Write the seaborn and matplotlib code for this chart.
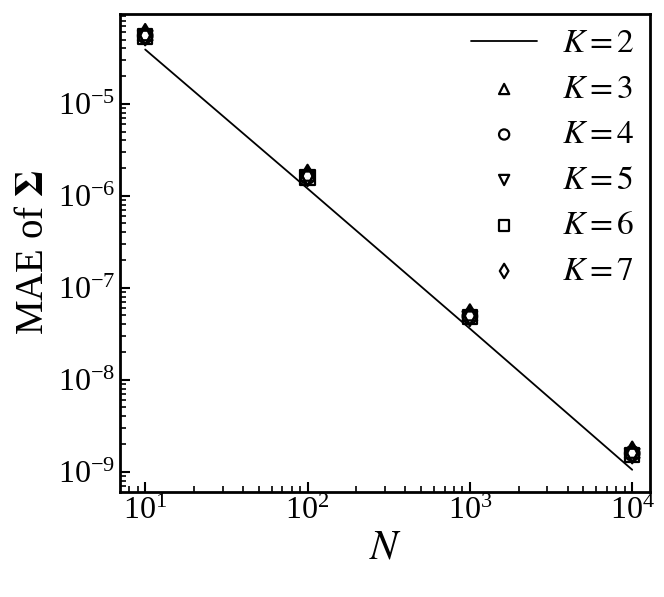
import numpy as np
import matplotlib
matplotlib.use("Agg")
import matplotlib.pyplot as plt
import matplotlib.ticker as mticker
import seaborn as sns

# data
N = [10, 100, 1000, 10000]
mae_k2 = [3.9e-5, 1.2e-6, 3.6e-8, 1.05e-9]
mae_k3 = [5.9e-5, 1.75e-6, 5.3e-8, 1.7e-9]
mae_k4 = [5.5e-5, 1.62e-6, 4.9e-8, 1.58e-9]
mae_k5 = [5.2e-5, 1.53e-6, 4.6e-8, 1.48e-9]
mae_k6 = [5.4e-5, 1.58e-6, 4.8e-8, 1.52e-9]
mae_k7 = [5.7e-5, 1.68e-6, 5.1e-8, 1.64e-9]
x_ticks = [1e1, 1e2, 1e3, 1e4]
y_ticks = [1e-9, 1e-8, 1e-7, 1e-6, 1e-5]

sns.set_style("ticks")
plt.rcParams['font.family'] = ['Liberation Serif', 'DejaVu Serif']
plt.rcParams['mathtext.fontset'] = 'stix'
# plain black text, not seaborn's dark grey
plt.rcParams['text.color'] = 'black'
plt.rcParams['axes.labelcolor'] = 'black'
plt.rcParams['xtick.color'] = 'black'
plt.rcParams['ytick.color'] = 'black'

fig = plt.figure(figsize=(6.64, 5.97), dpi=100)
ax = fig.add_axes([0.181, 0.176, 0.798, 0.801])

sns.lineplot(x=N, y=mae_k2, color='black', linewidth=1.3, ax=ax, label='$K=2$')

series = [(mae_k3, '^', '$K=3$'), (mae_k4, 'o', '$K=4$'), (mae_k5, 'v', '$K=5$'),
          (mae_k6, 's', '$K=6$'), (mae_k7, 'd', '$K=7$')]
for vals, mk, lab in series:
    sns.scatterplot(x=N, y=vals, marker=mk, s=110, facecolor='none',
                    edgecolor='black', linewidth=1.6, ax=ax, label=lab)

ax.set_xscale('log')
ax.set_yscale('log')
ax.set_xlim(10**0.846, 10**4.11)
ax.set_ylim(10**-9.22, 10**-4.02)
# only the decades inside the view get labels
ax.xaxis.set_major_locator(mticker.FixedLocator(x_ticks))
ax.yaxis.set_major_locator(mticker.FixedLocator(y_ticks))
ax.xaxis.set_major_formatter(mticker.LogFormatterSciNotation())
ax.yaxis.set_major_formatter(mticker.LogFormatterSciNotation())
ax.xaxis.set_minor_formatter(mticker.NullFormatter())
ax.yaxis.set_minor_formatter(mticker.NullFormatter())

ax.tick_params(which='both', direction='in', top=False, right=False, labelsize=23,
               colors='black')
ax.tick_params(which='major', length=7, width=1.5)
ax.tick_params(which='minor', length=4, width=1.2)
for sp in ax.spines.values():
    sp.set_linewidth(2)
    sp.set_color('black')

ax.set_xlabel('$N$', fontsize=30, labelpad=2)
ax.set_ylabel(r'MAE of $\mathbf{\Sigma}$', fontsize=28, labelpad=4)

ax.legend(loc='upper right', frameon=False, fontsize=24, markerscale=0.7,
          handlelength=2.0, handletextpad=0.75, labelspacing=0.45,
          borderaxespad=0.05)

fig.savefig('out.png', dpi=100)
